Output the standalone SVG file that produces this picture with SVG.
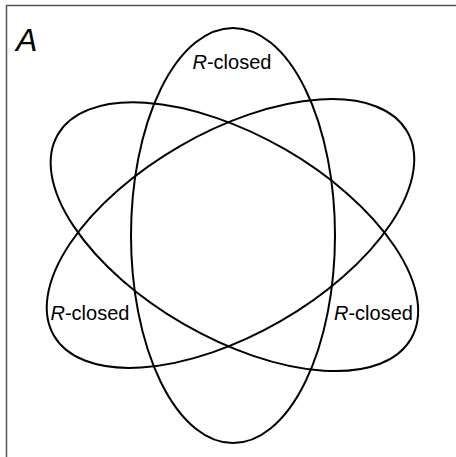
<svg xmlns="http://www.w3.org/2000/svg" width="456" height="457" viewBox="0 0 456 457">
<style>
.e{fill:none;stroke:#000;stroke-width:2}
.t{font-family:"Liberation Sans",Arial,sans-serif;font-size:20px;fill:#000}
</style>
<rect x="0" y="0" width="456" height="457" fill="#fff"/>
<path d="M6.5,457 V5.5 H456" fill="none" stroke="#555" stroke-width="1.5"/>
<text x="16" y="51" font-family="Liberation Sans,Arial,sans-serif" font-size="32" font-style="italic">A</text>
<g id="connectors"></g>
<g id="set1"><ellipse class="e" cx="233" cy="235.5" rx="102" ry="207.5"/><text class="t" x="192.5" y="69"><tspan font-style="italic">R</tspan>-closed</text></g>
<g id="set2"><ellipse class="e" cx="230.5" cy="233.5" rx="101" ry="204" transform="rotate(60 230.5 233.5)"/><text class="t" x="50.5" y="320"><tspan font-style="italic">R</tspan>-closed</text></g>
<g id="set3"><ellipse class="e" cx="234.4" cy="236.7" rx="101" ry="204" transform="rotate(-60 234.4 236.7)"/><text class="t" x="334" y="320"><tspan font-style="italic">R</tspan>-closed</text></g>
</svg>
